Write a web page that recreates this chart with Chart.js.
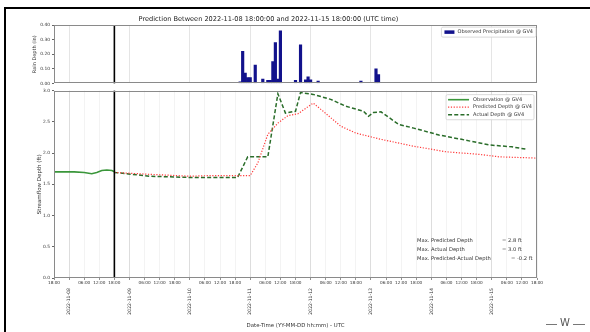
<!DOCTYPE html>
<html>
<head>
<meta charset="utf-8">
<script src="https://cdn.jsdelivr.net/npm/chart.js@4.4.1/dist/chart.umd.min.js"></script>
<style>
  html, body { margin: 0; padding: 0; background: #fff; }
  body { width: 590px; height: 332px; position: relative; overflow: hidden; font-family: "DejaVu Sans", sans-serif; }
  #frame { position: absolute; left: 4px; top: 7px; width: 700px; height: 400px; border-left: 2px solid #000; border-top: 2px solid #000; }
  canvas { position: absolute; left: 0; }
  #rain { top: 0; }
  #depth { top: 86px; }
  #mark { position: absolute; left: 546px; top: 316px; width: 38px; height: 14px; }
  #mark .ln { position: absolute; top: 8px; height: 1px; background: #777; }
  #mark .w { position: absolute; left: 12px; top: 0; width: 14px; text-align: center; font-size: 10px; line-height: 14px; color: #555; }
</style>
</head>
<body>
<div id="frame"></div>
<canvas id="rain" width="590" height="88"></canvas>
<canvas id="depth" width="590" height="246"></canvas>
<div id="mark"><span class="ln" style="left:0;width:11px"></span><span class="w">W</span><span class="ln" style="left:27px;width:12px"></span></div>
<script>
// x values are hours after 2022-11-07 18:00 UTC
const FONT = '"DejaVu Sans", sans-serif';
const X_MIN = 0;
const X_MAX = 192;
const FORECAST_START = 24;            // 2022-11-08 18:00

const dayHours  = [6, 30, 54, 78, 102, 126, 150, 174];
const dayLabels = ['2022-11-08', '2022-11-09', '2022-11-10', '2022-11-11',
                   '2022-11-12', '2022-11-13', '2022-11-14', '2022-11-15'];

// hourly rainfall (in)
const rainHours = [74, 75, 76, 77, 78, 80, 83, 85, 86, 87, 88, 89, 90, 96, 98, 100, 101, 102, 105, 122, 128, 129];
const rainIn    = [0.01, 0.22, 0.07, 0.04, 0.04, 0.125, 0.03, 0.02, 0.02, 0.15, 0.28, 0.03, 0.36, 0.02, 0.265, 0.025, 0.045, 0.025, 0.015, 0.015, 0.10, 0.06];

// observed stage before the forecast window (ft)
const obsHours = [0, 4, 8, 12, 15, 17, 19, 21, 23, 24];
const obsDepth = [1.70, 1.70, 1.70, 1.69, 1.67, 1.69, 1.72, 1.73, 1.72, 1.70];

// predicted depth (ft)
const predHours = [24, 38, 54, 62, 78, 81, 85, 89, 93, 97, 103, 107, 114, 120, 130, 143, 156, 169, 177, 192];
const predDepth = [1.69, 1.66, 1.63, 1.64, 1.64, 1.84, 2.30, 2.48, 2.60, 2.63, 2.80, 2.67, 2.43, 2.32, 2.22, 2.11, 2.02, 1.98, 1.94, 1.92];

// actual depth (ft)
const actHours = [24, 38, 54, 73, 77, 85, 89, 92, 96, 98, 103, 110, 116, 123, 125, 127, 130, 137, 143, 153, 162, 173, 182, 188];
const actDepth = [1.69, 1.63, 1.61, 1.61, 1.94, 1.94, 2.95, 2.64, 2.67, 2.97, 2.94, 2.86, 2.75, 2.67, 2.59, 2.65, 2.66, 2.46, 2.40, 2.29, 2.22, 2.13, 2.10, 2.06];

const rainTicks  = [0, 0.1, 0.2, 0.3, 0.4];
const depthTicks = [0, 0.5, 1, 1.5, 2, 2.5, 3];

const pts = (xs, ys) => xs.map((x, i) => ({ x, y: ys[i] }));
const fmtHour = v => { const h = (18 + v) % 24; return h === 0 ? '' : String(h).padStart(2, '0') + ':00'; };

// thin box round the plotting area
const plotFrame = {
  id: 'plotFrame',
  afterDraw(chart) {
    const { ctx, chartArea: a } = chart;
    ctx.save();
    ctx.strokeStyle = '#8a8a8a';
    ctx.lineWidth = 1;
    ctx.strokeRect(Math.round(a.left) + 0.5, Math.round(a.top) + 0.5, Math.round(a.right - a.left) - 1, Math.round(a.bottom - a.top) - 1);
    ctx.restore();
  }
};

// vertical marker at the start of the forecast window
const forecastMarker = {
  id: 'forecastMarker',
  afterDatasetsDraw(chart) {
    const { ctx, chartArea: a, scales } = chart;
    const x = scales.x.getPixelForValue(FORECAST_START);
    ctx.save();
    ctx.strokeStyle = '#000';
    ctx.lineWidth = 1.6;
    ctx.beginPath();
    ctx.moveTo(x, a.top);
    ctx.lineTo(x, a.bottom);
    ctx.stroke();
    ctx.restore();
  }
};

// legend drawn inside the upper-right corner of the plot
const insetLegend = {
  id: 'insetLegend',
  afterDraw(chart, args, o) {
    const { ctx, chartArea: a } = chart;
    const items = chart.data.datasets;
    ctx.save();
    ctx.font = o.fontSize + 'px ' + FONT;
    const textW = Math.max(...items.map(d => ctx.measureText(d.label).width));
    const w = o.pad * 2 + o.sample + o.gap + textW;
    const h = o.padY * 2 + items.length * o.row;
    const x0 = a.right - o.insetX - w;
    const y0 = a.top + o.insetY;
    ctx.beginPath();
    ctx.roundRect(x0, y0, w, h, 1.5);
    ctx.fillStyle = 'rgba(255,255,255,0.85)';
    ctx.fill();
    ctx.strokeStyle = '#d0d0d0';
    ctx.lineWidth = 0.8;
    ctx.stroke();
    items.forEach((d, i) => {
      const cy = y0 + o.padY + o.row * (i + 0.5);
      const sx = x0 + o.pad;
      if (o.patch) {
        ctx.fillStyle = d.backgroundColor;
        ctx.fillRect(sx, cy - o.patch / 2, o.sample, o.patch);
      } else {
        ctx.strokeStyle = d.borderColor;
        ctx.lineWidth = d.borderWidth;
        ctx.setLineDash(d.borderDash || []);
        ctx.beginPath();
        ctx.moveTo(sx, cy);
        ctx.lineTo(sx + o.sample, cy);
        ctx.stroke();
        ctx.setLineDash([]);
      }
      ctx.fillStyle = '#333';
      ctx.textBaseline = 'middle';
      ctx.textAlign = 'left';
      ctx.fillText(d.label, sx + o.sample + o.gap, cy);
    });
    ctx.restore();
  }
};

// summary of peak depths, lower-right of the plot
const peakSummary = {
  id: 'peakSummary',
  afterDraw(chart, args, o) {
    const { ctx, chartArea: a } = chart;
    const maxPred = Math.max(...predDepth);
    const maxAct = Math.max(...actDepth);
    const diff = maxPred - maxAct;
    ctx.save();
    ctx.font = o.fontSize + 'px ' + FONT;
    ctx.fillStyle = '#333';
    ctx.textBaseline = 'middle';
    ctx.textAlign = 'left';
    const lx = a.right - o.labelX;
    const vx = a.right - o.valueX;
    ctx.fillText('Max. Predicted Depth', lx, a.bottom - o.rows[0]);
    ctx.fillText('= ' + maxPred.toFixed(1) + ' ft', vx, a.bottom - o.rows[0]);
    ctx.fillText('Max. Actual Depth', lx, a.bottom - o.rows[1]);
    ctx.fillText('= ' + maxAct.toFixed(1) + ' ft', vx, a.bottom - o.rows[1]);
    ctx.fillText('Max. Predicted-Actual Depth', lx, a.bottom - o.rows[2]);
    ctx.fillText('= ' + diff.toFixed(1) + ' ft', a.right - o.diffX, a.bottom - o.rows[2]);
    ctx.restore();
  }
};

const dayGrid = ctx => (ctx.tick && dayHours.includes(ctx.tick.value)) ? 'rgba(0,0,0,0)' : '#f0f0f0';

// ---- rainfall panel ----
new Chart(document.getElementById('rain'), {
  type: 'bar',
  data: {
    datasets: [{
      label: 'Observed Precipitation @ GV4',
      data: pts(rainHours, rainIn),
      backgroundColor: '#12128c',
      borderWidth: 0,
      barPercentage: 1,
      categoryPercentage: 1
    }]
  },
  options: {
    responsive: false,
    animation: false,
    devicePixelRatio: 1,
    layout: { padding: { top: 0, right: 53, bottom: 4, left: 0 } },
    plugins: {
      legend: { display: false },
      tooltip: { enabled: false },
      title: {
        display: true,
        text: 'Prediction Between 2022-11-08 18:00:00 and 2022-11-15 18:00:00 (UTC time)',
        color: '#222',
        font: { family: FONT, size: 6.6, weight: 'normal' },
        padding: { top: 15, bottom: 2.2 }
      },
      insetLegend: { fontSize: 5, pad: 3, padY: 1.5, sample: 10, gap: 3, row: 7, patch: 3.5, insetX: 1, insetY: 2 }
    },
    scales: {
      x: {
        type: 'linear', min: X_MIN, max: X_MAX, offset: false,
        afterBuildTicks: s => { s.ticks = dayHours.map(v => ({ value: v })); },
        ticks: { display: false },
        grid: { color: '#dedede', drawTicks: false, lineWidth: 0.8, offset: false },
        border: { display: false },
        afterFit: s => { s.height = 0; }
      },
      y: {
        min: 0, max: 0.4,
        afterBuildTicks: s => { s.ticks = rainTicks.map(v => ({ value: v })); },
        ticks: { color: '#333', font: { family: FONT, size: 4.4 }, padding: 2, callback: v => v.toFixed(2) },
        grid: { drawOnChartArea: false, tickLength: 2, tickColor: '#666' },
        border: { display: false },
        title: { display: true, text: 'Rain Depth (in)', color: '#333', font: { family: FONT, size: 5 }, padding: { top: 32, bottom: 0 } },
        afterFit: s => { s.width = 54; }
      }
    }
  },
  plugins: [plotFrame, forecastMarker, insetLegend]
});

// ---- streamflow panel ----
new Chart(document.getElementById('depth'), {
  type: 'line',
  data: {
    datasets: [
      { label: 'Observation @ GV4', data: pts(obsHours, obsDepth), borderColor: '#3a963a', backgroundColor: '#3a963a', borderWidth: 1.6, pointRadius: 0, tension: 0 },
      { label: 'Predicted Depth @ GV4', data: pts(predHours, predDepth), borderColor: '#ff3a3a', backgroundColor: '#ff3a3a', borderWidth: 1.2, borderDash: [1.2, 1.6], pointRadius: 0, tension: 0 },
      { label: 'Actual Depth @ GV4', data: pts(actHours, actDepth), borderColor: '#2a6d2a', backgroundColor: '#2a6d2a', borderWidth: 1.5, borderDash: [4, 2.2], pointRadius: 0, tension: 0 }
    ]
  },
  options: {
    responsive: false,
    animation: false,
    devicePixelRatio: 1,
    layout: { padding: { top: 3, right: 53, bottom: 0, left: 0 } },
    plugins: {
      legend: { display: false },
      tooltip: { enabled: false },
      insetLegend: { fontSize: 5, pad: 2, padY: 1.3, sample: 21, gap: 4, row: 7.5, insetX: 3, insetY: 4 },
      peakSummary: { fontSize: 5.2, labelX: 120, valueX: 35, diffX: 26, rows: [37, 28, 19] }
    },
    scales: {
      x: {
        type: 'linear', min: X_MIN, max: X_MAX, weight: 0,
        ticks: { stepSize: 6, autoSkip: false, minRotation: 0, maxRotation: 0, padding: 0.5, color: '#333', font: { family: FONT, size: 4.2 }, callback: fmtHour },
        grid: { color: dayGrid, lineWidth: 0.8, tickLength: 2, tickColor: '#777' },
        border: { display: false },
        afterFit: s => { s.height = 8; }
      },
      x2: {
        type: 'linear', min: X_MIN, max: X_MAX, position: 'bottom', weight: 1,
        afterBuildTicks: s => { s.ticks = dayHours.map(v => ({ value: v })); },
        ticks: { autoSkip: false, minRotation: 90, maxRotation: 90, padding: 2, color: '#333', font: { family: FONT, size: 4.6 }, callback: (v, i) => dayLabels[i] },
        grid: { color: '#d4d4d4', lineWidth: 0.8, drawTicks: false },
        border: { display: false },
        title: { display: true, text: 'Date-Time (YY-MM-DD hh:mm) - UTC', color: '#333', font: { family: FONT, size: 5.4 }, padding: { top: 0, bottom: 3 } },
        afterFit: s => { s.height = 46; }
      },
      y: {
        min: 0, max: 3,
        afterBuildTicks: s => { s.ticks = depthTicks.map(v => ({ value: v })); },
        ticks: { color: '#333', font: { family: FONT, size: 4.4 }, padding: 2, callback: v => v.toFixed(1) },
        grid: { drawOnChartArea: false, tickLength: 2, tickColor: '#666' },
        border: { display: false },
        title: { display: true, text: 'Streamflow Depth (ft)', color: '#333', font: { family: FONT, size: 5.5 }, padding: { top: 36.7, bottom: 0 } },
        afterFit: s => { s.width = 54; }
      }
    }
  },
  plugins: [plotFrame, forecastMarker, insetLegend, peakSummary]
});
</script>
</body>
</html>
